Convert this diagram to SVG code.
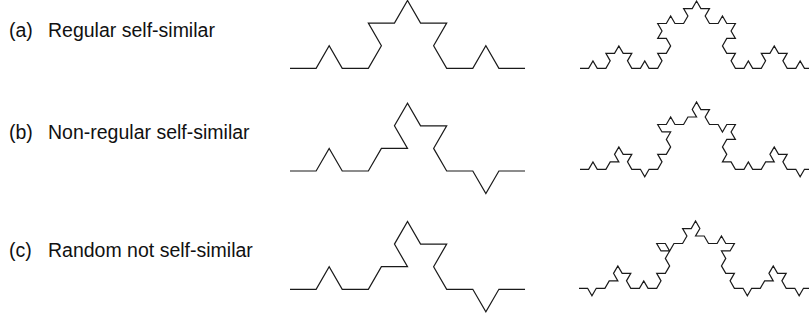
<svg xmlns="http://www.w3.org/2000/svg" width="809" height="320" viewBox="0 0 809 320">
<style>
.lbl{font-family:"Liberation Sans",Arial,sans-serif;font-size:19.5px;fill:#111}
.crv{fill:none;stroke:#1a1a1a;stroke-width:1.2;stroke-linejoin:miter}
</style>
<rect width="809" height="320" fill="#fff"/>
<g id="label-a"><text class="lbl" y="36.5"><tspan x="9">(a)</tspan><tspan x="48">Regular self-similar</tspan></text></g>
<g id="label-b"><text class="lbl" y="139"><tspan x="9">(b)</tspan><tspan x="48">Non-regular self-similar</tspan></text></g>
<g id="label-c"><text class="lbl" y="257"><tspan x="9">(c)</tspan><tspan x="48">Random not self-similar</tspan></text></g>
<g id="curve-a-level2"><path class="crv" d="M290 68.3 l26.11 0 13.06 -22.61 13.06 22.61 26.11 0 13.06 -22.61 -13.06 -22.61 26.11 0 13.06 -22.61 13.06 22.61 26.11 0 -13.06 22.61 13.06 22.61 26.11 0 13.06 -22.61 13.06 22.61 26.11 0"/></g>
<g id="curve-b-level2"><path class="crv" d="M290 171 l26.11 0 13.06 -22.61 13.06 22.61 26.11 0 13.06 -22.61 26.11 0 -13.06 -22.61 13.06 -22.61 13.06 22.61 26.11 0 -13.06 22.61 13.06 22.61 26.11 0 13.06 22.61 13.06 -22.61 26.11 0"/></g>
<g id="curve-c-level2"><path class="crv" d="M290 289.3 l26.11 0 13.06 -22.61 13.06 22.61 26.11 0 13.06 -22.61 26.11 0 -13.06 -22.61 13.06 -22.61 13.06 22.61 26.11 0 -13.06 22.61 13.06 22.61 26.11 0 13.06 22.61 13.06 -22.61 26.11 0"/></g>
<g id="curve-a-level3"><path class="crv" d="M580 68.3 l8.63 0 4.32 -7.47 4.32 7.47 8.63 0 4.32 -7.47 -4.32 -7.47 8.63 0 4.32 -7.47 4.32 7.47 8.63 0 -4.32 7.47 4.32 7.47 8.63 0 4.32 -7.47 4.32 7.47 8.63 0
4.32 -7.47 -4.32 -7.47 8.63 0 4.32 -7.47 -4.32 -7.47 -8.63 0 4.32 -7.47 -4.32 -7.47 8.63 0 4.32 -7.47 4.32 7.47 8.63 0 4.32 -7.47 -4.32 -7.47 8.63 0 4.32 -7.47
4.32 7.47 8.63 0 -4.32 7.47 4.32 7.47 8.63 0 4.32 -7.47 4.32 7.47 8.63 0 -4.32 7.47 4.32 7.47 -8.63 0 -4.32 7.47 4.32 7.47 8.63 0 -4.32 7.47 4.32 7.47
8.63 0 4.32 -7.47 4.32 7.47 8.63 0 4.32 -7.47 -4.32 -7.47 8.63 0 4.32 -7.47 4.32 7.47 8.63 0 -4.32 7.47 4.32 7.47 8.63 0 4.32 -7.47 4.32 7.47 8.63 0"/></g>
<g id="curve-b-level3"><path class="crv" d="M580 169.3 l8.63 0 4.32 -7.47 4.32 7.47 8.63 0 4.32 -7.47 8.63 0 -4.32 -7.47 4.32 -7.47 4.32 7.47 8.63 0 -4.32 7.47 4.32 7.47 8.63 0 4.32 7.47 4.32 -7.47 8.63 0
4.32 -7.47 -4.32 -7.47 8.63 0 4.32 -7.47 -4.32 -7.47 4.32 -7.47 -8.63 0 -4.32 -7.47 8.63 0 4.32 -7.47 4.32 7.47 8.63 0 4.32 -7.47 8.63 0 -4.32 -7.47 4.32 -7.47
4.32 7.47 8.63 0 -4.32 7.47 4.32 7.47 8.63 0 4.32 7.47 4.32 -7.47 8.63 0 -4.32 7.47 4.32 7.47 -8.63 0 -4.32 7.47 4.32 7.47 -4.32 7.47 8.63 0 4.32 7.47
8.63 0 4.32 -7.47 4.32 7.47 8.63 0 4.32 -7.47 8.63 0 -4.32 -7.47 4.32 -7.47 4.32 7.47 8.63 0 -4.32 7.47 4.32 7.47 8.63 0 4.32 7.47 4.32 -7.47 8.63 0"/></g>
<g id="curve-c-level3"><path class="crv" d="M579 288.3 l8.63 0 4.32 7.47 4.32 -7.47 8.63 0 4.32 -7.47 8.63 0 -4.32 -7.47 4.32 -7.47 4.32 7.47 8.63 0 -4.32 7.47 4.32 7.47 8.63 0 4.32 -7.47 4.32 7.47 8.63 0
4.32 -7.47 -4.32 -7.47 8.63 0 4.32 -7.47 -4.32 -7.47 4.32 -7.47 -8.63 0 -4.32 -7.47 8.63 0 4.32 7.47 4.32 -7.47 8.63 0 4.32 -7.47 -4.32 -7.47 8.63 0 4.32 -7.47
4.32 7.47 -4.32 7.47 8.63 0 4.32 7.47 8.63 0 4.32 -7.47 4.32 7.47 8.63 0 -4.32 7.47 -8.63 0 4.32 7.47 -4.32 7.47 4.32 7.47 8.63 0 -4.32 7.47 4.32 7.47
8.63 0 4.32 7.47 4.32 -7.47 8.63 0 4.32 -7.47 8.63 0 -4.32 -7.47 4.32 -7.47 4.32 7.47 8.63 0 -4.32 7.47 4.32 7.47 8.63 0 4.32 7.47 4.32 -7.47 8.63 0"/></g>
</svg>
